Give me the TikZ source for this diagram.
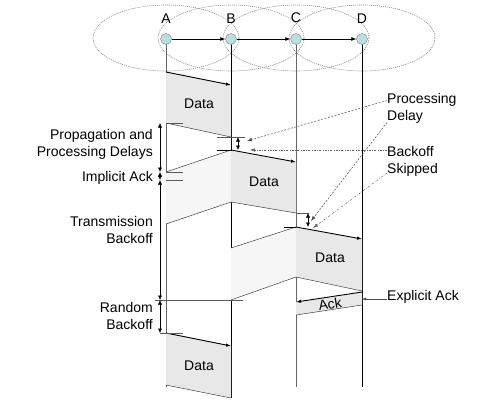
\documentclass[tikz,border=0pt]{standalone}
\usepackage{fontspec}
\setmainfont{Liberation Sans}
\usetikzlibrary{arrows.meta,positioning}

\definecolor{stnfill}{RGB}{184,224,226}
\definecolor{pktfill}{RGB}{232,232,232}
\definecolor{heardfill}{RGB}{246,246,246}

\tikzset{
  stn/.style={circle, draw=gray, fill=stnfill, minimum size=11pt, inner sep=0pt},
  radio/.style={gray, line width=0.6pt, dash pattern=on 1pt off 1pt},
  hop/.style={-{Latex[length=5pt,width=4pt]}, line width=0.7pt},
  pktsig/.style={-{Latex[length=5pt,width=3.5pt]}, line width=0.9pt},
  pktedge/.style={black!75, line width=0.5pt},
  tickln/.style={black!65, line width=0.5pt},
  gapdim/.style={{Latex[length=4.5pt,width=4pt]}-{Latex[length=4.5pt,width=4pt]}, black, line width=0.5pt},
  pdly/.style={-{Latex[length=5pt,width=3.5pt]}, black!70, line width=0.5pt, dash pattern=on 2pt off 1.5pt},
  bskip/.style={-{Latex[length=5pt,width=3.5pt]}, black!60, line width=0.5pt, dash pattern=on 2pt off 1.5pt on 0.5pt off 1.5pt},
  ptr/.style={-{Latex[length=4pt,width=3pt]}, black!70, line width=0.5pt},
  lbl/.style={inner sep=0pt, align=right, anchor=east},
  rlbl/.style={inner sep=0pt, align=left, anchor=west}
}

\begin{document}
\begin{tikzpicture}[x=1pt, y=-1pt, font=\fontsize{14}{17}\selectfont]
\useasboundingbox (0,0) rectangle (502,410);

% radio ranges
\foreach \x in {166,231,296,362}
  \draw[radio] (\x,38) ellipse [x radius=73pt, y radius=33pt];

% time lines
\foreach \x/\yend/\col in {166/387/black!60, 231/398/black, 296/387/black!60, 362/387/black}
  \draw[\col, line width=0.6pt] (\x,39) -- (\x,\yend);

% stations
\foreach \n/\x in {A/166,B/231,C/296,D/362} {
  \node[stn] (\n) at (\x,39) {};
  \node[above=10pt of \n, inner sep=0pt] (lbl\n) {\n};
}
\draw[hop] (A) -- (B);
\draw[hop] (B) -- (C);
\draw[hop] (C) -- (D);

% data A -> B
\fill[pktfill] (166,72) -- (231,85) -- (231,137) -- (166,123) -- cycle;
\draw[pktsig] (166,72) -- (231,85);
\draw[pktedge] (166,123) -- (231,137);
\node (data1) at (199,104) {Data};

% data B -> C, heard at A
\fill[heardfill] (231,150) -- (166,172) -- (166,224) -- (231,202) -- cycle;
\draw[pktedge] (231,150) -- (166,172);
\draw[pktedge] (231,202) -- (166,224);
\fill[pktfill] (231,150) -- (296,162) -- (296,213) -- (231,202) -- cycle;
\draw[pktsig] (231,150) -- (296,162);
\draw[pktedge] (231,202) -- (296,213);
\node (data2) at (264,182) {Data};

% data C -> D, heard at B
\fill[heardfill] (296,227) -- (231,248) -- (231,300) -- (296,277) -- cycle;
\draw[pktedge] (296,227) -- (231,248);
\draw[pktedge] (296,277) -- (231,300);
\fill[pktfill] (296,227) -- (362,239) -- (362,291) -- (296,277) -- cycle;
\draw[pktsig] (296,227) -- (362,239);
\draw[pktedge] (296,277) -- (362,291);
\node (data3) at (330,258) {Data};

% ack D -> C
\fill[pktfill] (362,292) -- (296,302) -- (296,315) -- (362,305) -- cycle;
\draw[pktsig] (362,292) -- (296,302);
\draw[pktedge] (362,305) -- (296,315);
\node[rotate=9, inner sep=0pt] (ack) at (330,304) {Ack};

% next data A -> B
\fill[pktfill] (166,333) -- (231,346) -- (231,398) -- (166,385) -- cycle;
\draw[pktsig] (166,333) -- (231,346);
\draw[pktedge] (166,385) -- (231,398);
\node (data4) at (199,366) {Data};

% ticks
\draw[tickln] (166,123) -- (183,123);
\draw[tickln] (166,172) -- (183,172);
\draw[tickln] (166,180) -- (183,180);
\draw[tickln] (155,300) -- (243,300);
\draw[tickln] (160,333) -- (183,333);
\draw[tickln] (217,137) -- (245,137);
\draw[black, line width=0.7pt] (217,150) -- (232,150);
\draw[tickln] (296,213) -- (309,213);
\draw[black, line width=0.7pt] (284,227) -- (296,227);

% intervals
\draw[gapdim] (160,123) -- (160,172);
\draw[gapdim] (160,172) -- (160,180);
\draw[gapdim] (160,180) -- (160,300);
\draw[gapdim] (160,300) -- (160,333);
\draw[gapdim] (238,137) -- (238,150);
\draw[gapdim] (308,213) -- (308,227);

% left labels
\node[lbl] (propL) at (153,144) {Propagation and\\Processing Delays};
\node[lbl] (implL) at (153,178) {Implicit Ack};
\node[lbl] (transL) at (153,229.5) {Transmission\\Backoff};
\node[lbl] (randL) at (153,315.5) {Random\\Backoff};

% right labels
\node[rlbl] (procL) at (387,108.5) {Processing\\Delay};
\node[rlbl] (skipL) at (387,161) {Backoff\\Skipped};
\node[rlbl] (explL) at (387,297) {Explicit Ack};

\coordinate (pdB) at (247,141);
\coordinate (pdC) at (311,221);
\coordinate (bsB) at (250,150);
\coordinate (bsC) at (313,228);
\coordinate (ackD) at (362,299);

\draw[pdly] ([yshift=8pt]procL.west) -- (pdB);
\draw[pdly] ([yshift=-14pt]procL.west) -- (pdC);
\draw[bskip] ([yshift=11pt]skipL.west) -- (bsB);
\draw[bskip] ([yshift=-12pt]skipL.west) -- (bsC);
\draw[ptr] ([yshift=-2pt]explL.west) -- (ackD);

\end{tikzpicture}
\end{document}
